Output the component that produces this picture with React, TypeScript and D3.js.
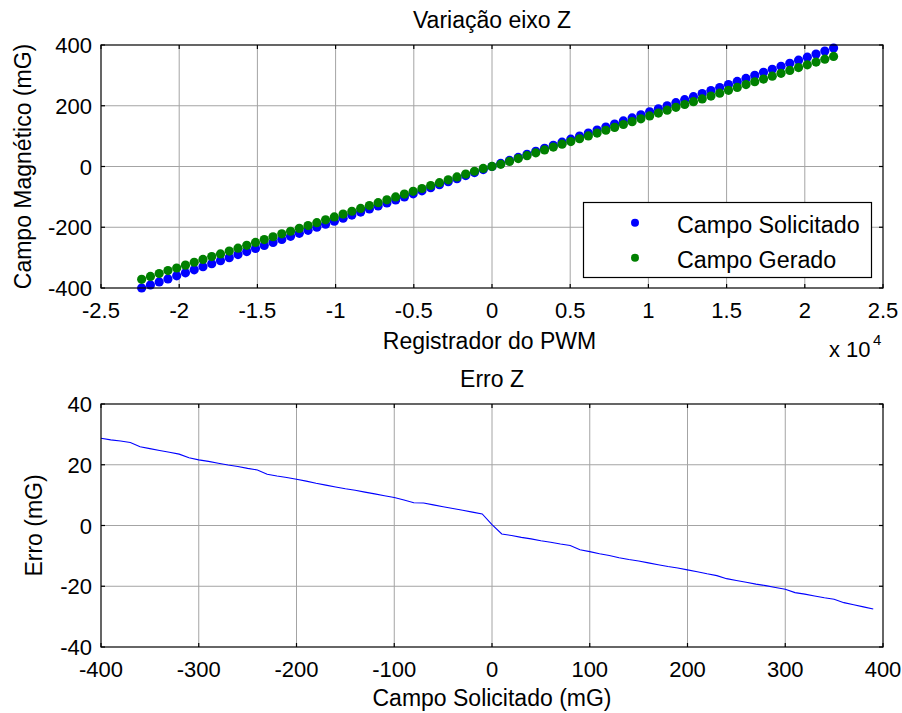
import React from "react";
import * as d3 from "d3";

// Campo Solicitado (mG)
const solicitado = [
  -400, -390, -380, -370, -360, -350, -340, -330, -320, -310,
  -300, -290, -280, -270, -260, -250, -240, -230, -220, -210,
  -200, -190, -180, -170, -160, -150, -140, -130, -120, -110,
  -100, -90, -80, -70, -60, -50, -40, -30, -20, -10,
  0, 10, 20, 30, 40, 50, 60, 70, 80, 90,
  100, 110, 120, 130, 140, 150, 160, 170, 180, 190,
  200, 210, 220, 230, 240, 250, 260, 270, 280, 290,
  300, 310, 320, 330, 340, 350, 360, 370, 380, 390,
];

// Registrador do PWM
const pwm = [
  -22400, -21840, -21280, -20720, -20160, -19600, -19040, -18480, -17920, -17360,
  -16800, -16240, -15680, -15120, -14560, -14000, -13440, -12880, -12320, -11760,
  -11200, -10640, -10080, -9520, -8960, -8400, -7840, -7280, -6720, -6160,
  -5600, -5040, -4480, -3920, -3360, -2800, -2240, -1680, -1120, -560,
  0, 560, 1120, 1680, 2240, 2800, 3360, 3920, 4480, 5040,
  5600, 6160, 6720, 7280, 7840, 8400, 8960, 9520, 10080, 10640,
  11200, 11760, 12320, 12880, 13440, 14000, 14560, 15120, 15680, 16240,
  16800, 17360, 17920, 18480, 19040, 19600, 20160, 20720, 21280, 21840,
];

// Campo Gerado (mG)
const gerado = [
  -371.3, -361.8, -352.2, -342.7, -334.1, -324.7, -315.3, -305.9, -296.5, -287.7,
  -278.4, -268.9, -259.5, -250.1, -240.6, -231.2, -221.7, -213.1, -203.7, -194.2,
  -184.8, -175.4, -166.1, -156.7, -147.3, -137.9, -128.4, -119.0, -109.6, -100.2,
  -90.8, -81.6, -72.5, -62.6, -53.2, -43.8, -34.4, -25.0, -15.6, -6.2,
  0.3, 7.2, 16.7, 26.1, 35.6, 45.0, 54.5, 63.9, 73.4, 82.0,
  91.4, 100.7, 110.1, 119.4, 128.8, 138.3, 147.7, 157.1, 166.5, 176.0,
  185.4, 194.8, 204.1, 213.5, 222.5, 231.9, 241.3, 250.7, 260.2, 269.6,
  279.0, 287.9, 297.4, 306.8, 316.2, 325.7, 334.6, 343.9, 353.2, 362.5,
];

// Erro (mG)
const erro = [
  28.7, 28.2, 27.8, 27.3, 25.9, 25.3, 24.7, 24.1, 23.5, 22.3,
  21.6, 21.1, 20.5, 19.9, 19.4, 18.8, 18.3, 16.9, 16.3, 15.8,
  15.2, 14.6, 13.9, 13.3, 12.7, 12.1, 11.6, 11.0, 10.4, 9.8,
  9.2, 8.4, 7.5, 7.4, 6.8, 6.2, 5.6, 5.0, 4.4, 3.8,
  0.3, -2.8, -3.3, -3.9, -4.4, -5.0, -5.5, -6.1, -6.6, -8.0,
  -8.6, -9.3, -9.9, -10.6, -11.2, -11.7, -12.3, -12.9, -13.5, -14.0,
  -14.6, -15.2, -15.9, -16.5, -17.5, -18.1, -18.7, -19.3, -19.8, -20.4,
  -21.0, -22.1, -22.6, -23.2, -23.8, -24.3, -25.4, -26.1, -26.8, -27.5,
];

const topXTicks = [-2.5, -2, -1.5, -1, -0.5, 0, 0.5, 1, 1.5, 2, 2.5];
const topYTicks = [-400, -200, 0, 200, 400];
const botXTicks = [-400, -300, -200, -100, 0, 100, 200, 300, 400];
const botYTicks = [-40, -20, 0, 20, 40];

const seriesNames = ["Campo Solicitado", "Campo Gerado"];

const FONT = "'Liberation Sans', Arial, Helvetica, sans-serif";
const TICK_FS = 22;
const LABEL_FS = 23;
const GRID = "#a4a4a4";

function Grid({ x, y, xTicks, yTicks }: any) {
  const [x0, x1] = x.range();
  const [y0, y1] = y.range();
  return (
    <g>
      {xTicks.slice(1, -1).map((t: number) => (
        <line key={"gx" + t} x1={x(t)} x2={x(t)} y1={y1} y2={y0} stroke={GRID} strokeWidth={1} />
      ))}
      {yTicks.slice(1, -1).map((t: number) => (
        <line key={"gy" + t} x1={x0} x2={x1} y1={y(t)} y2={y(t)} stroke={GRID} strokeWidth={1} />
      ))}
    </g>
  );
}

function Frame({ x, y, xTicks, yTicks, xFmt, yFmt }: any) {
  const [x0, x1] = x.range();
  const [y0, y1] = y.range();
  const tl = 4;
  return (
    <g>
      <rect x={x0} y={y1} width={x1 - x0} height={y0 - y1} fill="none" stroke="#000" strokeWidth={1.2} />
      {xTicks.map((t: number) => (
        <g key={"tx" + t}>
          <line x1={x(t)} x2={x(t)} y1={y0} y2={y0 - tl} stroke="#000" strokeWidth={1.2} />
          <line x1={x(t)} x2={x(t)} y1={y1} y2={y1 + tl} stroke="#000" strokeWidth={1.2} />
          <text x={x(t)} y={y0 + 29.5} textAnchor="middle" fontSize={TICK_FS} fontFamily={FONT} fill="#000">
            {xFmt(t)}
          </text>
        </g>
      ))}
      {yTicks.map((t: number) => (
        <g key={"ty" + t}>
          <line x1={x0} x2={x0 + tl} y1={y(t)} y2={y(t)} stroke="#000" strokeWidth={1.2} />
          <line x1={x1} x2={x1 - tl} y1={y(t)} y2={y(t)} stroke="#000" strokeWidth={1.2} />
          <text x={x0 - 9} y={y(t) + 8} textAnchor="end" fontSize={TICK_FS} fontFamily={FONT} fill="#000">
            {yFmt(t)}
          </text>
        </g>
      ))}
    </g>
  );
}

export default function App() {
  const left = 101;
  const right = 883;

  const xT = d3.scaleLinear().domain([-25000, 25000]).range([left, right]);
  const yT = d3.scaleLinear().domain([-400, 400]).range([288, 45]);
  const topXTickVals = topXTicks.map((t) => t * 10000);

  const xB = d3.scaleLinear().domain([-400, 400]).range([left, right]);
  const yB = d3.scaleLinear().domain([-40, 40]).range([647, 404]);

  const line = d3
    .line<number>()
    .x((_, i) => xB(solicitado[i]))
    .y((d) => yB(d));

  const r = 4.6;

  return (
    <svg
      width={902}
      height={713}
      style={{ position: "absolute", left: 0, top: 0, background: "#fff" }}
      fontFamily={FONT}
    >
      <rect x={0} y={0} width={902} height={713} fill="#fff" />

      {/* Top plot */}
      <Grid x={xT} y={yT} xTicks={topXTickVals} yTicks={topYTicks} />
      <g>
        {pwm.map((p, i) => (
          <circle key={"b" + i} cx={xT(p)} cy={yT(solicitado[i])} r={r} fill="#0000ff" />
        ))}
        {pwm.map((p, i) => (
          <circle key={"g" + i} cx={xT(p)} cy={yT(gerado[i])} r={r} fill="#008000" />
        ))}
      </g>
      <g>
        <rect x={583.5} y={202.5} width={288} height={75} fill="#fff" stroke="#000" strokeWidth={1.2} />
        <circle cx={635} cy={222.7} r={4} fill="#0000ff" />
        <circle cx={635} cy={257.7} r={4} fill="#008000" />
        <text x={677} y={233} fontSize={23.3} fontFamily={FONT} fill="#000">
          {seriesNames[0]}
        </text>
        <text x={677} y={267.5} fontSize={23.3} fontFamily={FONT} fill="#000">
          {seriesNames[1]}
        </text>
      </g>
      <Frame
        x={xT}
        y={yT}
        xTicks={topXTickVals}
        yTicks={topYTicks}
        xFmt={(t: number) => String(t / 10000)}
        yFmt={(t: number) => String(t)}
      />
      <text x={(left + right) / 2} y={28.3} textAnchor="middle" fontSize={LABEL_FS} fill="#000">
        Variação eixo Z
      </text>
      <text x={489.5} y={349} textAnchor="middle" fontSize={LABEL_FS} fill="#000">
        Registrador do PWM
      </text>
      <text x={829} y={357} fontSize={TICK_FS} fill="#000">
        x 10
      </text>
      <text x={873} y={345} fontSize={15} fill="#000">
        4
      </text>
      <text
        transform={`translate(31,${(288 + 45) / 2}) rotate(-90)`}
        textAnchor="middle"
        fontSize={LABEL_FS}
        fill="#000"
      >
        Campo Magnético (mG)
      </text>

      {/* Bottom plot */}
      <Grid x={xB} y={yB} xTicks={botXTicks} yTicks={botYTicks} />
      <path d={line(erro) || ""} fill="none" stroke="#0000ff" strokeWidth={1.1} />
      <Frame
        x={xB}
        y={yB}
        xTicks={botXTicks}
        yTicks={botYTicks}
        xFmt={(t: number) => String(t)}
        yFmt={(t: number) => String(t)}
      />
      <text x={(left + right) / 2} y={387.3} textAnchor="middle" fontSize={LABEL_FS} fill="#000">
        Erro Z
      </text>
      <text x={(left + right) / 2} y={706} textAnchor="middle" fontSize={LABEL_FS} fill="#000">
        Campo Solicitado (mG)
      </text>
      <text
        transform={`translate(42,${(647 + 404) / 2}) rotate(-90)`}
        textAnchor="middle"
        fontSize={LABEL_FS}
        fill="#000"
      >
        Erro (mG)
      </text>
    </svg>
  );
}
